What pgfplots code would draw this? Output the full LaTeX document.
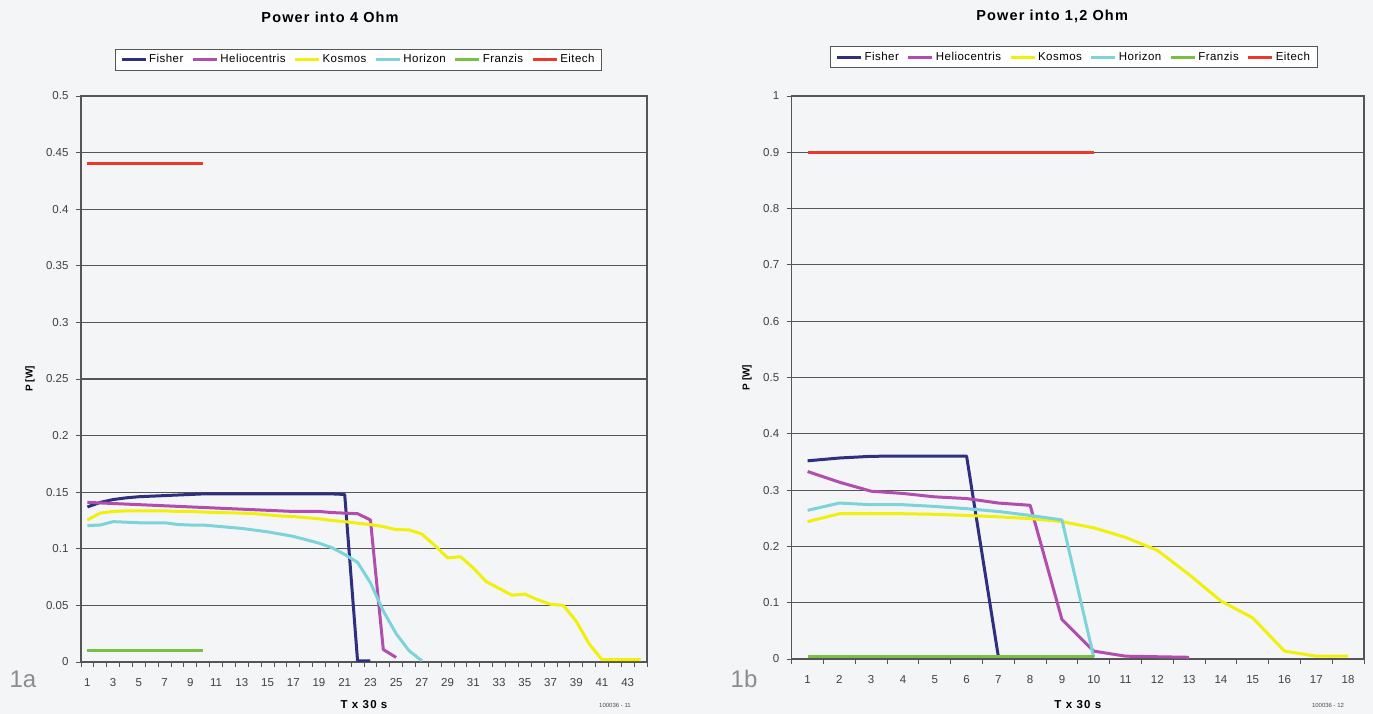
\documentclass[border=0pt]{standalone}
\usepackage{fontspec}
\setmainfont{Liberation Sans}
\usepackage{pgfplots}
\pgfplotsset{compat=1.18}
\definecolor{cFisher}{HTML}{2E2F7F}
\definecolor{cHelio}{HTML}{B24DB0}
\definecolor{cKosmos}{HTML}{F0F00A}
\definecolor{cHorizon}{HTML}{7DD3DA}
\definecolor{cFranzis}{HTML}{78C043}
\definecolor{cEitech}{HTML}{E8392C}
\definecolor{bg}{HTML}{F4F5F7}
\definecolor{gridc}{HTML}{555555}
\pgfplotsset{
  common/.style={
    scale only axis,
    axis line style={draw=gridc, line width=1.1pt},
    ymajorgrids,
    major grid style={draw=gridc, line width=1.1pt},
    tick style={draw=gridc, line width=0.9pt},
    tick align=outside,
    major tick length=5pt,
    minor tick length=5pt,
    ticklabel style={font=\fontsize{11.5}{13}\selectfont, text=black!75},
    xtick pos=bottom, ytick pos=left,
    major x tick style={draw=none},
    xticklabel style={yshift=-8pt},
    yticklabel style={xshift=-4pt},
    /pgf/number format/assume math mode=true,
    title style={font=\fontsize{14.5}{16}\selectfont\bfseries\addfontfeature{LetterSpace=8}, anchor=center},
    xlabel style={font=\fontsize{11.5}{13}\selectfont\bfseries\addfontfeature{LetterSpace=10}, anchor=center},
    ylabel style={font=\fontsize{10}{12}\selectfont\bfseries, anchor=center},
    legend columns=6,
    legend cell align=left,
    legend style={draw=gridc, line width=0.8pt, fill=white, font=\fontsize{11.5}{13}\selectfont\addfontfeature{LetterSpace=4},
      anchor=center, inner xsep=5pt, inner ysep=3.5pt,
      /tikz/every even column/.append style={column sep=6pt}},
    legend image code/.code={\draw[line width=3pt] (0pt,0pt) -- (24pt,0pt);},
    every axis plot/.append style={line width=3pt, no markers, line join=round},
  }
}
\begin{document}
\begin{tikzpicture}
\useasboundingbox[fill=bg] (0pt,0pt) rectangle (1373pt,714pt);
% ---------------- left panel ----------------
\begin{axis}[common,
  at={(81pt,52pt)}, anchor=south west,
  width=566pt, height=566pt,
  xmin=0.5, xmax=44.5, ymin=0, ymax=0.5,
  xtick={1,3,...,43},
  xticklabels={1,3,5,7,9,11,13,15,17,19,21,23,25,27,29,31,33,35,37,39,41,43},
  minor xtick={0.5,1.5,...,44.5},
  ytick={0,0.05,0.1,0.15,0.2,0.25,0.3,0.35,0.4,0.45,0.5},
  yticklabels={0,0.05,0.1,0.15,0.2,0.25,0.3,0.35,0.4,0.45,0.5},
  title={Power into 4 Ohm},
  title style={at={(axis description cs:0.44,1.1290)}},
  xlabel={T x 30 s},
  xlabel style={at={(axis description cs:0.5,-0.076)}},
  ylabel={P [W]},
  ylabel style={at={(axis description cs:-0.09,0.5)}},
  legend style={at={(axis description cs:0.49,1.0645)}},
]
\addplot[cFisher] coordinates {(1,0.137)(2,0.141)(3,0.1435)(4,0.145)(5,0.146)(6,0.1465)(7,0.147)(8,0.1475)(9,0.148)(10,0.1485)(11,0.1485)(12,0.1485)(13,0.1485)(14,0.1485)(15,0.1485)(16,0.1485)(17,0.1485)(18,0.1485)(19,0.1485)(20,0.1485)(21,0.148)(22,0.001)(23,0.001)};
\addlegendentry{Fisher}
\addplot[cHelio] coordinates {(1,0.141)(2,0.1405)(3,0.140)(4,0.1395)(5,0.139)(6,0.1385)(7,0.138)(8,0.1375)(9,0.137)(10,0.1365)(11,0.136)(12,0.1355)(13,0.135)(14,0.1345)(15,0.134)(16,0.1335)(17,0.133)(18,0.133)(19,0.133)(20,0.132)(21,0.1315)(22,0.131)(23,0.1255)(24,0.011)(25,0.004)};
\addlegendentry{Heliocentris}
\addplot[cKosmos] coordinates {(1,0.1255)(2,0.1315)(3,0.133)(4,0.1335)(5,0.1335)(6,0.1335)(7,0.1335)(8,0.133)(9,0.133)(10,0.1325)(11,0.132)(12,0.1318)(13,0.1315)(14,0.131)(15,0.130)(16,0.129)(17,0.1285)(18,0.1275)(19,0.1265)(20,0.125)(21,0.124)(22,0.1226)(23,0.1214)(24,0.1196)(25,0.117)(26,0.1167)(27,0.113)(28,0.103)(29,0.092)(30,0.093)(31,0.083)(32,0.071)(33,0.065)(34,0.059)(35,0.060)(36,0.055)(37,0.051)(38,0.050)(39,0.036)(40,0.016)(41,0.002)(42,0.002)(43,0.002)(44,0.002)};
\addlegendentry{Kosmos}
\addplot[cHorizon] coordinates {(1,0.1205)(2,0.121)(3,0.124)(4,0.1235)(5,0.123)(6,0.123)(7,0.123)(8,0.1215)(9,0.121)(10,0.121)(11,0.120)(12,0.119)(13,0.118)(14,0.1165)(15,0.115)(16,0.113)(17,0.111)(18,0.108)(19,0.105)(20,0.101)(21,0.095)(22,0.088)(23,0.070)(24,0.045)(25,0.025)(26,0.010)(27,0.001)};
\addlegendentry{Horizon}
\addplot[cFranzis] coordinates {(1,0.0105)(2,0.0105)(3,0.0105)(4,0.0105)(5,0.0105)(6,0.0105)(7,0.0105)(8,0.0105)(9,0.0105)(10,0.0105)};
\addlegendentry{Franzis}
\addplot[cEitech] coordinates {(1,0.44)(2,0.44)(3,0.44)(4,0.44)(5,0.44)(6,0.44)(7,0.44)(8,0.44)(9,0.44)(10,0.44)};
\addlegendentry{Eitech}
\end{axis}
% ---------------- right panel ----------------
\begin{axis}[common,
  at={(791.7pt,55pt)}, anchor=south west,
  width=572.3pt, height=563pt,
  xmin=0.5, xmax=18.5, ymin=0, ymax=1,
  xtick={1,2,...,18},
  xticklabels={1,2,3,4,5,6,7,8,9,10,11,12,13,14,15,16,17,18},
  minor xtick={0.5,1.5,...,18.5},
  ytick={0,0.1,0.2,0.3,0.4,0.5,0.6,0.7,0.8,0.9,1},
  yticklabels={0,0.1,0.2,0.3,0.4,0.5,0.6,0.7,0.8,0.9,1},
  title={Power into 1,2 Ohm},
  title style={at={(axis description cs:0.455,1.130)}},
  xlabel={T x 30 s},
  xlabel style={at={(axis description cs:0.5,-0.0817)}},
  ylabel={P [W]},
  ylabel style={at={(axis description cs:-0.078,0.5)}},
  legend style={at={(axis description cs:0.493,1.069)}},
]
\addplot[cFisher] coordinates {(1,0.352)(2,0.357)(3,0.360)(4,0.3605)(5,0.3605)(6,0.3605)(7,0.004)};
\addlegendentry{Fisher}
\addplot[cHelio] coordinates {(1,0.333)(2,0.314)(3,0.298)(4,0.294)(5,0.288)(6,0.285)(7,0.277)(8,0.273)(9,0.07)(10,0.014)(11,0.005)(12,0.004)(13,0.003)};
\addlegendentry{Heliocentris}
\addplot[cKosmos] coordinates {(1,0.244)(2,0.258)(3,0.258)(4,0.258)(5,0.257)(6,0.255)(7,0.2525)(8,0.2495)(9,0.244)(10,0.233)(11,0.216)(12,0.193)(13,0.150)(14,0.103)(15,0.073)(16,0.014)(17,0.005)(18,0.005)};
\addlegendentry{Kosmos}
\addplot[cHorizon] coordinates {(1,0.264)(2,0.277)(3,0.274)(4,0.274)(5,0.271)(6,0.267)(7,0.262)(8,0.255)(9,0.247)(10,0.003)};
\addlegendentry{Horizon}
\addplot[cFranzis] coordinates {(1,0.004)(2,0.004)(3,0.004)(4,0.004)(5,0.004)(6,0.004)(7,0.004)(8,0.004)(9,0.004)(10,0.004)};
\addlegendentry{Franzis}
\addplot[cEitech] coordinates {(1,0.9)(2,0.9)(3,0.9)(4,0.9)(5,0.9)(6,0.9)(7,0.9)(8,0.9)(9,0.9)(10,0.9)};
\addlegendentry{Eitech}
\end{axis}
% ---------------- annotations ----------------
\node[text=black!45, font=\fontsize{24}{26}\selectfont] at (23pt,35pt) {1a};
\node[text=black!45, font=\fontsize{24}{26}\selectfont] at (744pt,35pt) {1b};
\node[text=black!70, font=\fontsize{6}{7}\selectfont] at (615pt,9pt) {100036 - 11};
\node[text=black!70, font=\fontsize{6}{7}\selectfont] at (1328pt,9pt) {100036 - 12};
\end{tikzpicture}
\end{document}
